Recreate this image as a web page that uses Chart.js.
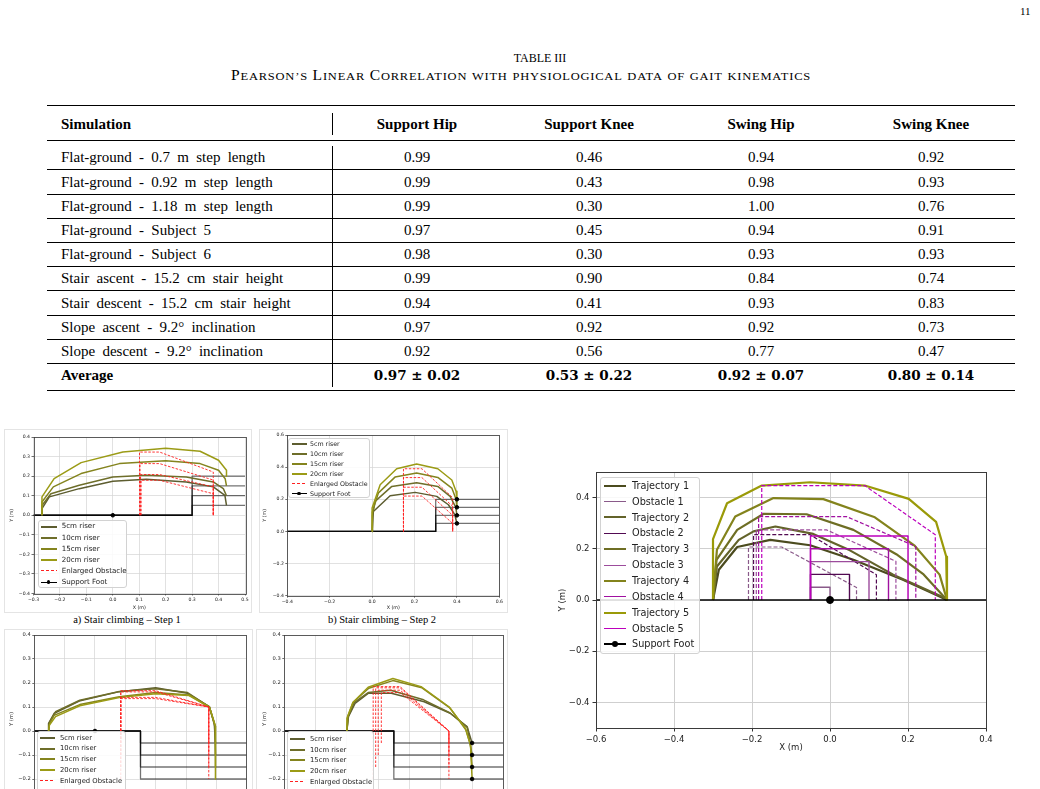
<!DOCTYPE html>
<html>
<head>
<meta charset="utf-8">
<script src="https://cdn.jsdelivr.net/npm/chart.js@4.4.1/dist/chart.umd.min.js"></script>
<style>
  html, body { margin: 0; padding: 0; background: #fff; overflow: hidden; }
  #page { position: relative; width: 1040px; height: 789px; overflow: hidden; font-family: "Liberation Serif", "Times New Roman", serif; color: #000; }
  .abs { position: absolute; white-space: nowrap; }
  .rule { position: absolute; background: #000; }
  .fig { position: absolute; border: 1px solid #e4e4e4; box-sizing: border-box; }
  canvas { position: absolute; }
  .lg { position: absolute; background: rgba(255,255,255,0.85); border: 1px solid #d2d2d2; border-radius: 3px; box-sizing: border-box; }
  .lgtxt { position: absolute; font-family: "DejaVu Sans", sans-serif; color: #222; white-space: nowrap; }
  .sc { font-size: 10.9px; }
</style>
</head>
<body>
<div id="page"></div>
<script>
// ---- table data ----
const simulations = [
  "Flat-ground - 0.7 m step length",
  "Flat-ground - 0.92 m step length",
  "Flat-ground - 1.18 m step length",
  "Flat-ground - Subject 5",
  "Flat-ground - Subject 6",
  "Stair ascent - 15.2 cm stair height",
  "Stair descent - 15.2 cm stair height",
  "Slope ascent - 9.2\u00b0 inclination",
  "Slope descent - 9.2\u00b0 inclination"
];
const headers = ["Support Hip", "Support Knee", "Swing Hip", "Swing Knee"];
const supportHip = ["0.99", "0.99", "0.99", "0.97", "0.98", "0.99", "0.94", "0.97", "0.92"];
const supportKnee = ["0.46", "0.43", "0.30", "0.45", "0.30", "0.90", "0.41", "0.92", "0.56"];
const swingHip = ["0.94", "0.98", "1.00", "0.94", "0.93", "0.84", "0.93", "0.92", "0.77"];
const swingKnee = ["0.92", "0.93", "0.76", "0.91", "0.93", "0.74", "0.83", "0.73", "0.47"];
const averages = ["0.97 \u00b1 0.02", "0.53 \u00b1 0.22", "0.92 \u00b1 0.07", "0.80 \u00b1 0.14"];

// ---- big chart: obstacle avoidance ----
const trajectory1 = [[-0.300,0.000],[-0.285,0.118],[-0.238,0.207],[-0.153,0.235],[-0.051,0.214],[0.060,0.157],[0.187,0.079],[0.281,0.014],[0.300,0.000]];
const trajectory2 = [[-0.300,0.000],[-0.290,0.131],[-0.234,0.235],[-0.196,0.268],[-0.140,0.287],[-0.043,0.258],[0.051,0.194],[0.162,0.099],[0.289,0.012],[0.300,0.000]];
const trajectory3 = [[-0.300,0.000],[-0.291,0.157],[-0.238,0.274],[-0.170,0.337],[-0.060,0.335],[0.060,0.274],[0.170,0.179],[0.240,0.100],[0.300,0.000]];
const trajectory4 = [[-0.300,0.000],[-0.290,0.196],[-0.243,0.326],[-0.145,0.398],[-0.017,0.394],[0.115,0.323],[0.217,0.212],[0.281,0.099],[0.300,0.000]];
const trajectory5 = [[-0.300,0.000],[-0.300,0.238],[-0.264,0.378],[-0.175,0.447],[-0.051,0.460],[0.089,0.447],[0.202,0.395],[0.272,0.305],[0.298,0.170],[0.300,0.000]];
const obstacle1 = [[-0.05,0],[-0.05,0.05],[0.00,0.05],[0.00,0]];
const obstacle2 = [[-0.05,0],[-0.05,0.10],[0.05,0.10],[0.05,0]];
const obstacle3 = [[-0.05,0],[-0.05,0.15],[0.10,0.15],[0.10,0]];
const obstacle4 = [[-0.05,0],[-0.05,0.20],[0.15,0.20],[0.15,0]];
const obstacle5 = [[-0.05,0],[-0.05,0.25],[0.20,0.25],[0.20,0]];
const enlarged1 = [[-0.209,0],[-0.209,0.207],[-0.124,0.207],[0.068,0.049],[0.068,0]];
const enlarged2 = [[-0.196,0],[-0.196,0.255],[-0.051,0.255],[0.119,0.099],[0.119,0]];
const enlarged3 = [[-0.189,0],[-0.189,0.274],[-0.009,0.274],[0.169,0.151],[0.169,0]];
const enlarged4 = [[-0.183,0],[-0.183,0.326],[0.042,0.326],[0.220,0.209],[0.220,0]];
const enlarged5 = [[-0.175,0],[-0.175,0.447],[0.089,0.447],[0.270,0.255],[0.270,0]];
const groundBig = [[-0.6,0],[0.4,0]];
const footBig = [[0,0]];
const bigXTicks = [-0.6, -0.4, -0.2, 0.0, 0.2, 0.4];
const bigYTicks = [-0.4, -0.2, 0.0, 0.2, 0.4];

// ---- a) stair climbing step 1 ----
const a5 = [[-0.268,0],[-0.268,0.034],[-0.240,0.094],[-0.127,0.136],[0.000,0.174],[0.127,0.184],[0.278,0.170],[0.380,0.145],[0.424,0.102],[0.430,0.050]];
const a10 = [[-0.268,0],[-0.268,0.050],[-0.234,0.110],[-0.127,0.153],[0.000,0.196],[0.127,0.204],[0.278,0.196],[0.380,0.170],[0.418,0.136],[0.430,0.100]];
const a15 = [[-0.268,0],[-0.268,0.068],[-0.225,0.145],[-0.120,0.213],[0.025,0.264],[0.200,0.279],[0.330,0.264],[0.400,0.230],[0.425,0.187],[0.430,0.150]];
const a20 = [[-0.268,0],[-0.268,0.094],[-0.222,0.187],[-0.120,0.269],[0.038,0.323],[0.200,0.342],[0.330,0.327],[0.400,0.281],[0.430,0.230],[0.430,0.200]];
const aObst5 = [[0.107,0],[0.107,0.179],[0.177,0.179],[0.380,0.110],[0.380,0]];
const aObst10 = [[0.105,0],[0.105,0.208],[0.177,0.208],[0.380,0.145],[0.380,0]];
const aObst15 = [[0.103,0],[0.103,0.264],[0.177,0.264],[0.380,0.180],[0.380,0]];
const aObst20 = [[0.101,0],[0.101,0.323],[0.177,0.323],[0.380,0.221],[0.380,0]];
const aStair5 = [[-0.3,0],[0.3,0],[0.3,0.05],[0.5,0.05]];
const aStair10 = [[-0.3,0],[0.3,0],[0.3,0.10],[0.5,0.10]];
const aStair15 = [[-0.3,0],[0.3,0],[0.3,0.15],[0.5,0.15]];
const aStair20 = [[-0.3,0],[0.3,0],[0.3,0.20],[0.5,0.20]];
const aFoot = [[0,0]];

// ---- b) stair climbing step 2 ----
const b5 = [[0,0],[0.006,0.124],[0.085,0.222],[0.203,0.243],[0.305,0.218],[0.360,0.166],[0.390,0.104],[0.400,0.050]];
const b10 = [[0,0],[0.002,0.100],[0.014,0.187],[0.093,0.280],[0.210,0.303],[0.310,0.280],[0.368,0.218],[0.395,0.150],[0.400,0.100]];
const b15 = [[0,0],[0.001,0.120],[0.030,0.240],[0.108,0.338],[0.210,0.363],[0.310,0.336],[0.376,0.270],[0.396,0.200],[0.400,0.150]];
const b20 = [[0,0],[0.000,0.145],[0.038,0.290],[0.116,0.390],[0.210,0.420],[0.310,0.390],[0.376,0.320],[0.396,0.250],[0.400,0.200]];
const bObst5 = [[0.148,0],[0.148,0.220],[0.235,0.220],[0.380,0.050],[0.380,0]];
const bObst10 = [[0.148,0],[0.148,0.275],[0.235,0.275],[0.380,0.100],[0.380,0]];
const bObst15 = [[0.148,0],[0.148,0.335],[0.235,0.335],[0.380,0.156],[0.380,0]];
const bObst20 = [[0.148,0],[0.148,0.390],[0.235,0.390],[0.380,0.210],[0.380,0]];
const bStair5 = [[-0.4,0],[0.3,0],[0.3,0.05],[0.6,0.05]];
const bStair10 = [[-0.4,0],[0.3,0],[0.3,0.10],[0.6,0.10]];
const bStair15 = [[-0.4,0],[0.3,0],[0.3,0.15],[0.6,0.15]];
const bStair20 = [[-0.4,0],[0.3,0],[0.3,0.20],[0.6,0.20]];
const bFoot = [[0.4,0.05],[0.4,0.10],[0.4,0.15],[0.4,0.20]];

// ---- c) stair descent step 1 ----
const c5 = [[-0.153,0],[-0.153,0.032],[-0.134,0.074],[-0.052,0.125],[0.080,0.164],[0.200,0.180],[0.305,0.157],[0.377,0.101],[0.393,0.032],[0.397,-0.05]];
const c10 = [[-0.153,0],[-0.150,0.035],[-0.130,0.080],[-0.050,0.128],[0.080,0.165],[0.200,0.176],[0.305,0.160],[0.377,0.101],[0.395,0.020],[0.397,-0.10]];
const c15 = [[-0.153,0],[-0.150,0.030],[-0.135,0.065],[-0.050,0.110],[0.080,0.143],[0.200,0.160],[0.310,0.150],[0.377,0.100],[0.397,0.020],[0.397,-0.15]];
const c20 = [[-0.153,0],[-0.150,0.025],[-0.130,0.060],[-0.050,0.105],[0.080,0.140],[0.200,0.155],[0.310,0.148],[0.377,0.100],[0.397,0.020],[0.397,-0.20]];
const cObst5 = [[0.085,-0.05],[0.085,0.168],[0.200,0.168],[0.375,0.100],[0.375,-0.05]];
const cObst10 = [[0.085,-0.10],[0.085,0.163],[0.200,0.163],[0.375,0.100],[0.375,-0.10]];
const cObst15 = [[0.085,-0.15],[0.085,0.140],[0.200,0.140],[0.375,0.100],[0.375,-0.15]];
const cObst20 = [[0.085,-0.20],[0.085,0.135],[0.200,0.135],[0.375,0.100],[0.375,-0.20]];
const cStair5 = [[-0.2,0],[0.15,0],[0.15,-0.05],[0.5,-0.05]];
const cStair10 = [[-0.2,0],[0.15,0],[0.15,-0.10],[0.5,-0.10]];
const cStair15 = [[-0.2,0],[0.15,0],[0.15,-0.15],[0.5,-0.15]];
const cStair20 = [[-0.2,0],[0.15,0],[0.15,-0.20],[0.5,-0.20]];
const cFoot = [[0,0]];

// ---- d) stair descent step 2 ----
const d5 = [[0,0],[0.005,0.060],[0.026,0.115],[0.068,0.157],[0.142,0.157],[0.247,0.122],[0.330,0.074],[0.384,0.018],[0.400,-0.05]];
const d10 = [[0,0],[0.004,0.060],[0.023,0.118],[0.068,0.160],[0.140,0.170],[0.245,0.130],[0.330,0.075],[0.385,0.015],[0.400,-0.10]];
const d15 = [[0,0],[0.003,0.060],[0.020,0.120],[0.070,0.178],[0.147,0.210],[0.240,0.180],[0.330,0.095],[0.380,0.005],[0.395,-0.060],[0.400,-0.15]];
const d20 = [[0,0],[0.000,0.053],[0.019,0.119],[0.068,0.182],[0.147,0.219],[0.237,0.185],[0.326,0.101],[0.379,0.011],[0.395,-0.058],[0.400,-0.20]];
const dObst5 = [[0.110,-0.05],[0.110,0.160],[0.170,0.160],[0.326,0],[0.326,-0.05]];
const dObst10 = [[0.100,-0.10],[0.100,0.170],[0.170,0.170],[0.326,0],[0.326,-0.10]];
const dObst15 = [[0.092,-0.15],[0.092,0.180],[0.170,0.180],[0.326,0],[0.326,-0.15]];
const dObst20 = [[0.084,-0.20],[0.084,0.185],[0.170,0.185],[0.326,0],[0.326,-0.20]];
const dStair5 = cStair5, dStair10 = cStair10, dStair15 = cStair15, dStair20 = cStair20;
const dFoot = [[0.4,-0.05],[0.4,-0.10],[0.4,-0.15],[0.4,-0.20]];

// ---- colours ----
const trajColors = ["#4b4b1e", "#63632a", "#6e6e24", "#83831c", "#9a9a08"];
const obstColors = ["#8a5a8a", "#520a52", "#9c4c9c", "#a010a0", "#bc00bc"];
const riserColors = ["#5d5d30", "#6e6e2a", "#84841e", "#9b9b16"];
const riserLabels = ["5cm riser", "10cm riser", "15cm riser", "20cm riser"];
const RED = "#ff2020";
const STAIR = "rgba(0,0,0,0.55)";

const page = document.getElementById("page");
const $ = (html, css) => { const d = document.createElement("div"); d.className = "abs"; d.innerHTML = html; Object.assign(d.style, css); page.appendChild(d); return d; };
const rule = (x, y, w, h) => { const d = document.createElement("div"); d.className = "rule"; Object.assign(d.style, { left: x + "px", top: y + "px", width: w + "px", height: h + "px" }); page.appendChild(d); };

// --- page header + table ---
$("11", { left: "1020px", top: "5px", fontSize: "11px" });
$("TABLE III", { left: "0", width: "1080px", textAlign: "center", top: "51px", fontSize: "12px" });
// small caps done by hand: capitals full size, the rest as smaller capitals,
// then widened to the printed width (the printed small caps are broad)
const subtitle = "Pearson\u2019s Linear Correlation with physiological data of gait kinematics";
const subHtml = subtitle.replace(/[a-z\u2019]+/g, m => `<span class="sc">${m.toUpperCase()}</span>`);
const sub = $(subHtml, { left: "231px", top: "68px", fontSize: "13.6px", letterSpacing: "0.7px", transformOrigin: "0 50%" });
sub.style.transform = `scaleX(${580 / sub.getBoundingClientRect().width})`;

const TL = 47, TW = 968;
const colCenters = [417, 589, 761, 931];
rule(TL, 104.5, TW, 1.4);
rule(TL, 140, TW, 1);
const rowCenters = [156.6, 181.5, 205.7, 229.9, 254.1, 278.3, 302.5, 326.7, 350.9];
const rowLines = [169.3, 193.5, 217.7, 241.9, 266.1, 290.3, 314.5, 338.7, 362.9];
rowLines.forEach(y => rule(TL, y, TW, 1));
rule(TL, 389.5, TW, 1.4);
rule(331.5, 113, 1, 22);
rule(331.5, 146, 1, 241);

const cell = (txt, cx, cy, css) => $(txt, Object.assign({ top: (cy - 10) + "px", height: "20px", lineHeight: "20px", fontSize: "15px" }, cx === null ? {} : { left: (cx - 100) + "px", width: "200px", textAlign: "center" }, css));
cell("Simulation", null, 124, { left: "61px", fontWeight: "bold" });
headers.forEach((h, i) => cell(h, colCenters[i], 124, { fontWeight: "bold" }));
const cols = [supportHip, supportKnee, swingHip, swingKnee];
simulations.forEach((s, r) => {
  cell(s, null, rowCenters[r], { left: "61px", wordSpacing: "3.5px" });
  cols.forEach((c, i) => cell(c[r], colCenters[i], rowCenters[r], {}));
});
cell("Average", null, 375, { left: "61px", fontWeight: "bold" });
averages.forEach((a, i) => cell(a, colCenters[i], 375, { fontFamily: "'DejaVu Serif', serif", fontWeight: "bold", fontSize: "13.5px" }));

// --- figure frames and captions ---
const frame = (x, y, w, h) => { const d = document.createElement("div"); d.className = "fig"; Object.assign(d.style, { left: x + "px", top: y + "px", width: w + "px", height: h + "px" }); page.appendChild(d); };
frame(4, 429, 248, 184);
frame(259, 429, 249, 184);
frame(4, 629, 249, 180);
frame(256, 629, 252, 180);
$("a) Stair climbing \u2013 Step 1", { left: "27px", width: "200px", textAlign: "center", top: "614px", fontSize: "10.5px" });
$("b) Stair climbing \u2013 Step 2", { left: "282px", width: "200px", textAlign: "center", top: "614px", fontSize: "10.5px" });

// --- chart helpers ---
const pts = a => a.map(p => ({ x: p[0], y: p[1] }));
const line = (data, color, width, dash) => ({ data: pts(data), showLine: true, borderColor: color, borderWidth: width, borderDash: dash || [], borderJoinStyle: "round", pointRadius: 0, fill: false, tension: 0 });
const dots = (data, color, r) => ({ data: pts(data), showLine: false, pointRadius: r, pointBackgroundColor: color, pointBorderColor: color, borderColor: color });
const fmt = v => (v < -1e-9 ? "\u2212" : "") + Math.abs(v).toFixed(1);

const framePlugin = {
  id: "frame",
  afterDatasetsDraw(chart, args, opts) {
    const { ctx, chartArea: a } = chart;
    ctx.save();
    ctx.strokeStyle = "#3a3a3a";
    ctx.lineWidth = opts.lineWidth || 1;
    ctx.strokeRect(Math.round(a.left) + 0.5, Math.round(a.top) + 0.5, Math.round(a.right - a.left), Math.round(a.bottom - a.top));
    ctx.restore();
  }
};

function makeChart(g, datasets) {
  const cv = document.createElement("canvas");
  cv.width = g.w; cv.height = g.h;
  Object.assign(cv.style, { left: g.left + "px", top: g.top + "px", width: g.w + "px", height: g.h + "px" });
  page.appendChild(cv);
  const lh = g.titleSize * 1.2;
  const tickFont = { family: "DejaVu Sans", size: g.tickSize };
  const grid = { color: g.gridColor || "#d4d4d4", lineWidth: g.gridW, tickLength: g.tickLen, tickColor: "#333", tickWidth: g.gridW };
  datasets.forEach((d, i) => { d.order = -i; });
  const fixTicks = vals => vals ? (s => { s.ticks = vals.map(v => ({ value: v })); }) : undefined;
  new Chart(cv, {
    type: "scatter",
    data: { datasets },
    options: {
      responsive: false, animation: false, devicePixelRatio: 1,
      layout: { padding: { left: 0, top: g.plotT - g.top, right: g.left + g.w - g.plotR, bottom: 0 } },
      plugins: { legend: { display: false }, tooltip: { enabled: false }, frame: { lineWidth: g.frameW } },
      scales: {
        x: {
          type: "linear", min: g.xMin, max: g.xMax,
          afterFit: s => { s.height = g.top + g.h - g.plotB; },
          afterBuildTicks: fixTicks(g.xTicks),
          ticks: { stepSize: g.xStep, font: tickFont, color: "#222", padding: g.tickPad, maxRotation: 0, autoSkip: false, callback: fmt },
          grid, border: { display: false },
          title: { display: true, text: "X (m)", color: "#222", font: { family: "DejaVu Sans", size: g.titleSize }, padding: { top: 0, bottom: Math.max(0, g.top + g.h - g.xTitleY - lh / 2) } }
        },
        y: {
          type: "linear", min: g.yMin, max: g.yMax,
          afterFit: s => { s.width = g.plotL - g.left; },
          afterBuildTicks: fixTicks(g.yTicks),
          ticks: { stepSize: g.yStep, font: tickFont, color: "#222", padding: g.tickPad, autoSkip: false, callback: fmt },
          grid, border: { display: false },
          title: { display: true, text: "Y (m)", color: "#222", font: { family: "DejaVu Sans", size: g.titleSize }, padding: { top: Math.max(0, g.yTitleX - g.left - lh / 2), bottom: 0 } }
        }
      }
    },
    plugins: [framePlugin]
  });
}

function addLegend(b, items, st) {
  const box = document.createElement("div");
  box.className = "lg";
  Object.assign(box.style, { left: b.x + "px", top: b.y + "px", width: b.w + "px", height: b.h + "px" });
  page.appendChild(box);
  items.forEach((it, i) => {
    const cy = st.first + i * st.step;
    const h = Math.max(1, Math.round(it.width));
    const sw = document.createElement("div");
    sw.style.position = "absolute";
    sw.style.left = Math.round(st.swX) + "px"; sw.style.width = st.swW + "px";
    sw.style.top = Math.round(cy - h / 2) + "px"; sw.style.height = h + "px";
    sw.style.background = it.dash
      ? `repeating-linear-gradient(to right, ${it.color} 0 ${it.dash[0]}px, transparent ${it.dash[0]}px ${it.dash[0] + it.dash[1]}px)`
      : it.color;
    page.appendChild(sw);
    if (it.marker) {
      const m = document.createElement("div");
      Object.assign(m.style, { position: "absolute", left: (st.swX + st.swW / 2 - it.marker) + "px", top: (cy - it.marker) + "px", width: 2 * it.marker + "px", height: 2 * it.marker + "px", borderRadius: "50%", background: it.color });
      page.appendChild(m);
    }
    const t = document.createElement("div");
    t.className = "lgtxt";
    t.textContent = it.label;
    Object.assign(t.style, { left: st.txtX + "px", top: (cy - st.size * 0.6) + "px", height: st.size * 1.2 + "px", lineHeight: st.size * 1.2 + "px", fontSize: st.size + "px" });
    page.appendChild(t);
  });
}

// --- big chart ---
const trajs = [trajectory1, trajectory2, trajectory3, trajectory4, trajectory5];
const obsts = [obstacle1, obstacle2, obstacle3, obstacle4, obstacle5];
const enls = [enlarged1, enlarged2, enlarged3, enlarged4, enlarged5];
const bigSets = [];
trajs.forEach((t, i) => {
  bigSets.push(line(t, trajColors[i], 2.2));
  bigSets.push(line(obsts[i], obstColors[i], 1.4));
  bigSets.push(line(enls[i], obstColors[i], 1.2, [4, 2]));
});
bigSets.push(line(groundBig, "#000", 1.5));
bigSets.push(dots(footBig, "#000", 3.5));
makeChart({ left: 540, top: 460, w: 470, h: 300, plotL: 596, plotR: 986, plotT: 472, plotB: 728,
  xMin: -0.6, xMax: 0.4, xTicks: bigXTicks, yMin: -0.5, yMax: 0.5, yTicks: bigYTicks,
  tickSize: 8.5, titleSize: 8.5, tickLen: 3.5, tickPad: 3, gridW: 1, frameW: 1, gridColor: "#cfcfcf",
  xTitleY: 748, yTitleX: 563 }, bigSets);
const bigItems = [];
trajs.forEach((t, i) => {
  bigItems.push({ label: "Trajectory " + (i + 1), color: trajColors[i], width: 2.2 });
  bigItems.push({ label: "Obstacle " + (i + 1), color: obstColors[i], width: 1.4 });
});
bigItems.push({ label: "Support Foot", color: "#000", width: 1.5, marker: 3 });
addLegend({ x: 600, y: 477, w: 100, h: 177 }, bigItems, { first: 485.7, step: 15.86, swX: 603.5, swW: 22, txtX: 632, size: 9.7 });

// --- small charts ---
function smallSets(risers, obsts, stairs, feet) {
  const s = [];
  stairs.forEach(st => s.push(line(st, STAIR, 1.3)));
  risers.forEach((r, i) => s.push(line(r, riserColors[i], 1.5)));
  obsts.forEach(o => s.push(line(o, RED, 0.9, [2.5, 1.5])));
  s.push(dots(feet, "#000", 1.8));
  return s;
}
function smallItems() {
  const it = riserLabels.map((l, i) => ({ label: l, color: riserColors[i], width: 2 }));
  it.push({ label: "Enlarged Obstacle", color: RED, width: 1, dash: [3, 2] });
  it.push({ label: "Support Foot", color: "#000", width: 1, marker: 1.8 });
  return it;
}

makeChart({ left: 4, top: 430, w: 248, h: 182, plotL: 33.5, plotR: 245, plotT: 437, plotB: 593.5,
  xMin: -0.3, xMax: 0.5, xStep: 0.1, yMin: -0.4, yMax: 0.4, yStep: 0.1,
  tickSize: 4.6, titleSize: 4.8, tickLen: 2, tickPad: 1.5, gridW: 0.7, frameW: 0.8,
  xTitleY: 608, yTitleX: 11.5 }, smallSets([a5, a10, a15, a20], [aObst5, aObst10, aObst15, aObst20], [aStair5, aStair10, aStair15, aStair20], aFoot));
addLegend({ x: 38.3, y: 520, w: 88.5, h: 67.5 }, smallItems(), { first: 526.7, step: 11.06, swX: 40.5, swW: 16, txtX: 61.7, size: 7.1 });

makeChart({ left: 259, top: 430, w: 248, h: 182, plotL: 287.3, plotR: 499.3, plotT: 435, plotB: 595.7,
  xMin: -0.4, xMax: 0.6, xStep: 0.2, yMin: -0.4, yMax: 0.6, yStep: 0.2,
  tickSize: 4.6, titleSize: 4.8, tickLen: 2, tickPad: 1.5, gridW: 0.7, frameW: 0.8,
  xTitleY: 608, yTitleX: 265 }, smallSets([b5, b10, b15, b20], [bObst5, bObst10, bObst15, bObst20], [bStair5, bStair10, bStair15, bStair20], bFoot));
addLegend({ x: 288.3, y: 438.3, w: 82, h: 60 }, smallItems(), { first: 444, step: 9.87, swX: 291.5, swW: 15, txtX: 310, size: 6.3 });

makeChart({ left: 4, top: 628, w: 250, h: 196, plotL: 34.3, plotR: 246.7, plotT: 635, plotB: 803,
  xMin: -0.2, xMax: 0.5, xStep: 0.1, yMin: -0.3, yMax: 0.4, yStep: 0.1,
  tickSize: 5.2, titleSize: 5.2, tickLen: 2, tickPad: 1.5, gridW: 0.7, frameW: 0.8,
  xTitleY: 818, yTitleX: 11.7 }, smallSets([c5, c10, c15, c20], [cObst5, cObst10, cObst15, cObst20], [cStair5, cStair10, cStair15, cStair20], cFoot));
addLegend({ x: 36.7, y: 731, w: 89, h: 70 }, smallItems(), { first: 737.7, step: 10.8, swX: 40, swW: 15, txtX: 60, size: 6.8 });

makeChart({ left: 257, top: 628, w: 252, h: 196, plotL: 284.3, plotR: 504.3, plotT: 635, plotB: 803,
  xMin: -0.2, xMax: 0.5, xStep: 0.1, yMin: -0.3, yMax: 0.4, yStep: 0.1,
  tickSize: 5.2, titleSize: 5.2, tickLen: 2, tickPad: 1.5, gridW: 0.7, frameW: 0.8,
  xTitleY: 818, yTitleX: 265 }, smallSets([d5, d10, d15, d20], [dObst5, dObst10, dObst15, dObst20], [dStair5, dStair10, dStair15, dStair20], dFoot));
addLegend({ x: 286.5, y: 731, w: 87, h: 70 }, smallItems(), { first: 739, step: 10.7, swX: 290, swW: 15, txtX: 310, size: 6.8 });
</script>
</body>
</html>
